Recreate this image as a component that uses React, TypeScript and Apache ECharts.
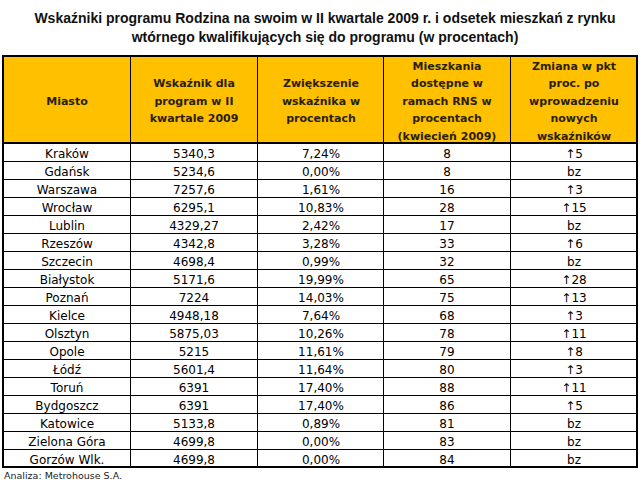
import React, { useEffect, useRef } from "react";
import * as echarts from "echarts";

const titleText =
  "Wskaźniki programu Rodzina na swoim w II kwartale 2009 r. i odsetek mieszkań z rynku\nwtórnego kwalifikujących się do programu (w procentach)";
const footerText = "Analiza: Metrohouse S.A.";

const headers = [
  "Miasto",
  "Wskaźnik dla\nprogram w II\nkwartale 2009",
  "Zwiększenie\nwskaźnika w\nprocentach",
  "Mieszkania\ndostępne w\nramach RNS w\nprocentach\n(kwiecień 2009)",
  "Zmiana w pkt\nproc. po\nwprowadzeniu\nnowych\nwskaźników",
];

const cities = [
  "Kraków", "Gdańsk", "Warszawa", "Wrocław", "Lublin", "Rzeszów", "Szczecin",
  "Białystok", "Poznań", "Kielce", "Olsztyn", "Opole", "Łódź", "Toruń",
  "Bydgoszcz", "Katowice", "Zielona Góra", "Gorzów Wlk.",
];

const wskaznik = [
  5340.3, 5234.6, 7257.6, 6295.1, 4329.27, 4342.8, 4698.4, 5171.6, 7224,
  4948.18, 5875.03, 5215, 5601.4, 6391, 6391, 5133.8, 4699.8, 4699.8,
];

const zwiekszenie = [
  7.24, 0.0, 1.61, 10.83, 2.42, 3.28, 0.99, 19.99, 14.03, 7.64, 10.26, 11.61,
  11.64, 17.4, 17.4, 0.89, 0.0, 0.0,
];

const mieszkania = [8, 8, 16, 28, 17, 33, 32, 65, 75, 68, 78, 79, 80, 88, 86, 81, 83, 84];

const zmiana: (number | null)[] = [
  5, null, 3, 15, null, 6, null, 28, 13, 3, 11, 8, 3, 11, 5, null, null, null,
];

const colKeys = ["c0", "c1", "c2", "c3", "c4"];

function fmtNum(v: number) {
  return String(v).replace(".", ",");
}

export default function App() {
  const ref = useRef<HTMLDivElement>(null);
  useEffect(() => {
    if (!ref.current) return;
    const chart = echarts.init(ref.current, undefined, { renderer: "svg" });

    const headerData = headers.map((h, i) => [i, 0, h]);
    const bodyData: any[] = [];
    cities.forEach((c, r) => {
      bodyData.push([0, r, c]);
      bodyData.push([1, r, fmtNum(wskaznik[r])]);
      bodyData.push([2, r, zwiekszenie[r].toFixed(2).replace(".", ",") + "%"]);
      bodyData.push([3, r, String(mieszkania[r])]);
      bodyData.push([4, r, zmiana[r] == null ? "bz" : "↑" + zmiana[r]]);
    });

    const makeRender = (
      rows: any[],
      fill: string,
      font: string,
      color: string,
      lh: number
    ) =>
      (params: any, api: any) => {
        const col = api.value(0);
        const row = api.value(1);
        const p = api.coord([col, row]);
        const s = api.size([1, 1]);
        const x = Math.round(p[0] - s[0] / 2) + 0.5;
        const y = Math.round(p[1] - s[1] / 2) + 0.5;
        const w = Math.round(s[0]);
        const h = Math.round(s[1]);
        const text = rows[params.dataIndex][2];
        return {
          type: "group",
          children: [
            {
              type: "rect",
              shape: { x, y, width: w, height: h },
              style: { fill, stroke: "#000", lineWidth: 1 },
            },
            {
              type: "text",
              style: {
                text,
                x: x + w / 2,
                y: y + h / 2 + 1,
                align: "center",
                verticalAlign: "middle",
                font,
                fill: color,
                lineHeight: lh,
              },
            },
          ],
        };
      };

    chart.setOption({
      animation: false,
      backgroundColor: "#fff",
      title: {
        text: titleText,
        left: 320,
        top: 3,
        textAlign: "center",
        textStyle: {
          fontFamily: "Liberation Sans",
          fontWeight: "bold",
          fontSize: 14,
          lineHeight: 19,
          color: "#111",
        },
      },
      grid: [
        { left: 3, right: 3, top: 56, height: 87 },
        { left: 3, right: 3, top: 143, height: 324 },
      ],
      xAxis: [
        { type: "category", gridIndex: 0, data: colKeys, show: false },
        { type: "category", gridIndex: 1, data: colKeys, show: false },
      ],
      yAxis: [
        { type: "category", gridIndex: 0, data: ["h"], show: false },
        { type: "category", gridIndex: 1, data: cities, inverse: true, show: false },
      ],
      series: [
        {
          type: "custom",
          xAxisIndex: 0,
          yAxisIndex: 0,
          data: headerData,
          renderItem: makeRender(headerData, "#FFC000", "bold 11px 'DejaVu Sans'", "#2a1f05", 17.5),
          encode: { x: 0, y: 1 },
        },
        {
          type: "custom",
          xAxisIndex: 1,
          yAxisIndex: 1,
          data: bodyData,
          renderItem: makeRender(bodyData, "#ffffff", "12px 'DejaVu Sans'", "#000", 14),
          encode: { x: 0, y: 1 },
        },
      ],
      graphic: [
        {
          type: "rect",
          shape: { x: 3, y: 56, width: 634, height: 411 },
          style: { fill: "none", stroke: "#000", lineWidth: 2 },
          z: 100,
        },
        {
          type: "line",
          shape: { x1: 3, y1: 143, x2: 637, y2: 143 },
          style: { stroke: "#000", lineWidth: 2 },
          z: 100,
        },
        {
          type: "text",
          left: 4,
          top: 470,
          style: {
            text: footerText,
            font: "9.5px 'DejaVu Sans'",
            fill: "#222",
          },
        },
      ],
    });
    return () => chart.dispose();
  }, []);
  return (
    <div
      ref={ref}
      style={{ position: "fixed", left: 0, top: 0, width: 640, height: 484 }}
    />
  );
}
